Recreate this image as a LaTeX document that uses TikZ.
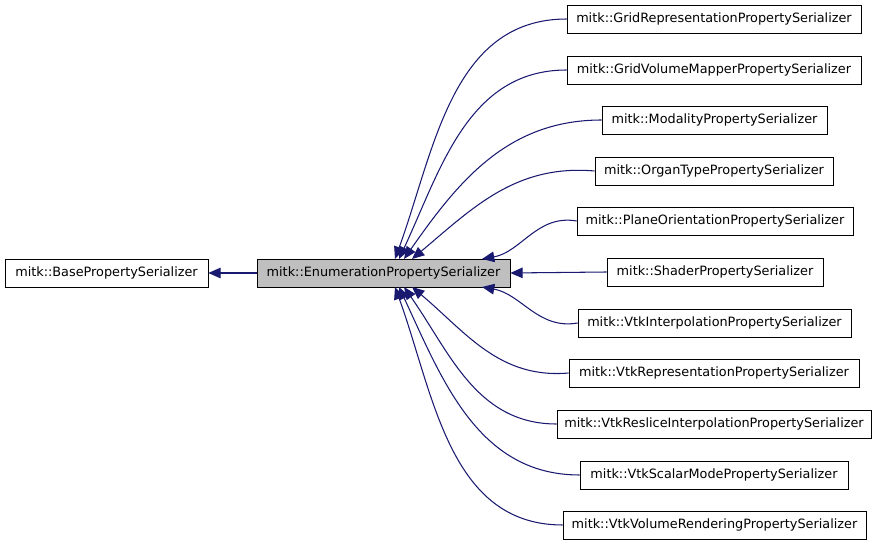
\documentclass[tikz,border=0pt]{standalone}
\usepackage{fontspec}
\setmainfont{DejaVu Sans}
\usetikzlibrary{arrows.meta}
\definecolor{edgeblue}{HTML}{191970}
\tikzset{
  cls/.style={draw,inner sep=0pt,minimum height=0.56cm,font=\fontsize{7.3}{9}\selectfont},
  inh/.style={draw=edgeblue,line width=0.6pt,-{Triangle[length=7pt,width=6pt,fill=edgeblue]}}
}
\begin{document}
\begin{tikzpicture}[x=0.02cm,y=-0.02cm]
  \useasboundingbox (0,0) rectangle (877,544);

  \node[cls,minimum width=4.06cm] (base) at (106.5,273) {mitk::BasePropertySerializer};
  \node[cls,minimum width=5.06cm,fill=black!25] (enum) at (383.5,273) {mitk::EnumerationPropertySerializer};

  \node[cls,minimum width=5.88cm] (grid) at (714,19) {mitk::GridRepresentationPropertySerializer};
  \node[cls,minimum width=5.88cm] (gvm) at (714,70) {mitk::GridVolumeMapperPropertySerializer};
  \node[cls,minimum width=4.5cm] (mod) at (714.5,120) {mitk::ModalityPropertySerializer};
  \node[cls,minimum width=4.76cm] (organ) at (714,171) {mitk::OrganTypePropertySerializer};
  \node[cls,minimum width=5.52cm] (plane) at (715,221) {mitk::PlaneOrientationPropertySerializer};
  \node[cls,minimum width=4.32cm] (shader) at (715,272) {mitk::ShaderPropertySerializer};
  \node[cls,minimum width=5.46cm] (vinterp) at (714.5,323) {mitk::VtkInterpolationPropertySerializer};
  \node[cls,minimum width=5.8cm] (vrep) at (714,373) {mitk::VtkRepresentationPropertySerializer};
  \node[cls,minimum width=6.28cm] (vresl) at (714,424) {mitk::VtkResliceInterpolationPropertySerializer};
  \node[cls,minimum width=5.36cm] (vscal) at (714,475) {mitk::VtkScalarModePropertySerializer};
  \node[cls,minimum width=6.06cm] (vvol) at (714.5,525) {mitk::VtkVolumeRenderingPropertySerializer};

  % inheritance edges
  \draw[inh] (enum.west) -- (base.east);
  \draw[inh] (grid.west) to[out=180,in=70] (395,259);
  \draw[inh] (gvm.west) to[out=180,in=65] (399,259);
  \draw[inh] (mod.west) to[out=180,in=55] (404,259);
  \draw[inh] (organ.west) to[out=175,in=40] (412,259);
  \draw[inh] (plane.west) to[out=170,in=10] (482,259);
  \draw[inh] (shader.west) -- (enum.east);
  \draw[inh] (vinterp.west) to[out=-170,in=-10] (482,287);
  \draw[inh] (vrep.west) to[out=-175,in=-40] (412,287);
  \draw[inh] (vresl.west) to[out=180,in=-55] (404,287);
  \draw[inh] (vscal.west) to[out=180,in=-65] (399,287);
  \draw[inh] (vvol.west) to[out=180,in=-70] (395,287);
\end{tikzpicture}
\end{document}
